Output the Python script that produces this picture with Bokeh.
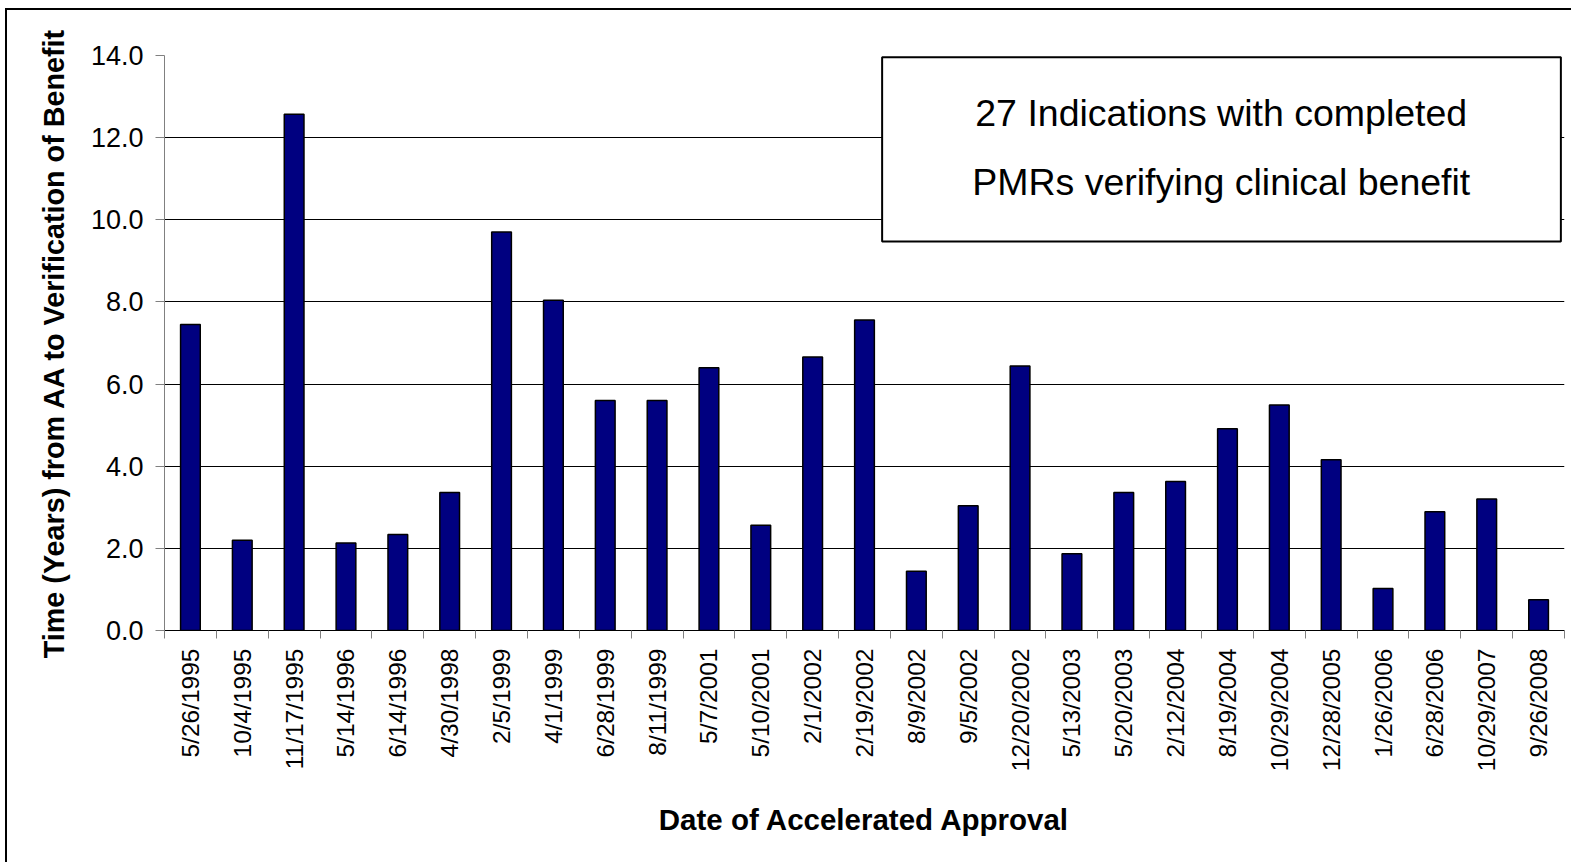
from bokeh.plotting import figure
from bokeh.models import (FixedTicker, NumeralTickFormatter, Range1d, BoxAnnotation, Label)
from bokeh.embed import file_html
from bokeh.resources import INLINE
import math

# ---- data ----
dates = ["5/26/1995", "10/4/1995", "11/17/1995", "5/14/1996", "6/14/1996", "4/30/1998",
         "2/5/1999", "4/1/1999", "6/28/1999", "8/11/1999", "5/7/2001", "5/10/2001",
         "2/1/2002", "2/19/2002", "8/9/2002", "9/5/2002", "12/20/2002", "5/13/2003",
         "5/20/2003", "2/12/2004", "8/19/2004", "10/29/2004", "12/28/2005", "1/26/2006",
         "6/28/2006", "10/29/2007", "9/26/2008"]
years = [7.45, 2.2, 12.57, 2.13, 2.34, 3.36,
         9.7, 8.04, 5.6, 5.6, 6.4, 2.56,
         6.66, 7.56, 1.44, 3.04, 6.44, 1.87,
         3.36, 3.63, 4.91, 5.49, 4.16, 1.02,
         2.89, 3.2, 0.75]
y_ticks = [0, 2, 4, 6, 8, 10, 12, 14]
note_lines = ["27 Indications with completed", "PMRs verifying clinical benefit"]
x_title = "Date of Accelerated Approval"
y_title = "Time (Years) from AA to Verification of Benefit"

n = len(dates)
centers = [i + 0.5 for i in range(n)]
bounds = list(range(n + 1))

FONT = "Liberation Sans"

p = figure(width=1566, height=854, output_backend="svg", toolbar_location=None,
           x_range=Range1d(0, n), y_range=Range1d(0, 14),
           min_border_left=157, min_border_right=9, min_border_top=45, min_border_bottom=234)
p.outline_line_color = None
p.background_fill_color = "white"
p.border_fill_color = "white"
p.styles = {"border-left": "2px solid black", "border-top": "2px solid black",
            "margin-left": "5px", "margin-top": "8px"}

p.vbar(x=centers, top=years, width=0.38, fill_color="#000080", line_color="black", line_width=1.5)

# y axis
ya = p.yaxis[0]
ya.ticker = FixedTicker(ticks=y_ticks)
ya.formatter = NumeralTickFormatter(format="0.0")
ya.axis_line_color = "#808080"
ya.major_tick_line_color = "#808080"
ya.major_tick_out = 9
ya.major_tick_in = 0
ya.minor_tick_line_color = None
ya.major_label_text_font = FONT
ya.major_label_text_font_size = "27px"
ya.major_label_text_color = "black"
ya.major_label_standoff = 12
ya.axis_label = y_title
ya.axis_label_text_font = FONT
ya.axis_label_text_font_style = "bold"
ya.axis_label_text_font_size = "28.75px"
ya.axis_label_text_color = "black"
ya.axis_label_standoff = 18

# x axis
xa = p.xaxis[0]
xa.ticker = FixedTicker(ticks=centers, minor_ticks=bounds)
xa.major_label_overrides = {c: d for c, d in zip(centers, dates)}
xa.axis_line_color = "black"
xa.major_tick_line_color = None
xa.major_tick_out = 0
xa.major_tick_in = 0
xa.minor_tick_line_color = "#808080"
xa.minor_tick_out = 8
xa.minor_tick_in = 0
xa.major_label_orientation = math.pi / 2
xa.major_label_text_font = FONT
xa.major_label_text_font_size = "24.5px"
xa.major_label_text_color = "black"
xa.major_label_standoff = 10
xa.axis_label = x_title
xa.axis_label_text_font = FONT
xa.axis_label_text_font_style = "bold"
xa.axis_label_text_font_size = "29.5px"
xa.axis_label_text_color = "black"
xa.axis_label_standoff = 29

p.xgrid.grid_line_color = None
p.ygrid.ticker = FixedTicker(ticks=y_ticks)
p.ygrid.grid_line_color = "black"
p.ygrid.grid_line_width = 1

# note box
box = BoxAnnotation(left=13.84, right=26.93, top=13.96, bottom=9.47,
                    fill_color="white", fill_alpha=1.0, line_color="black",
                    line_alpha=1.0, line_width=2)
p.add_layout(box)
for txt, yy in zip(note_lines, [12.59, 10.93]):
    p.add_layout(Label(x=20.38, y=yy, text=txt, text_align="center", text_baseline="middle",
                       text_font=FONT, text_font_size="37.5px", text_color="black"))

open("out.html", "w").write(file_html(p, INLINE))
